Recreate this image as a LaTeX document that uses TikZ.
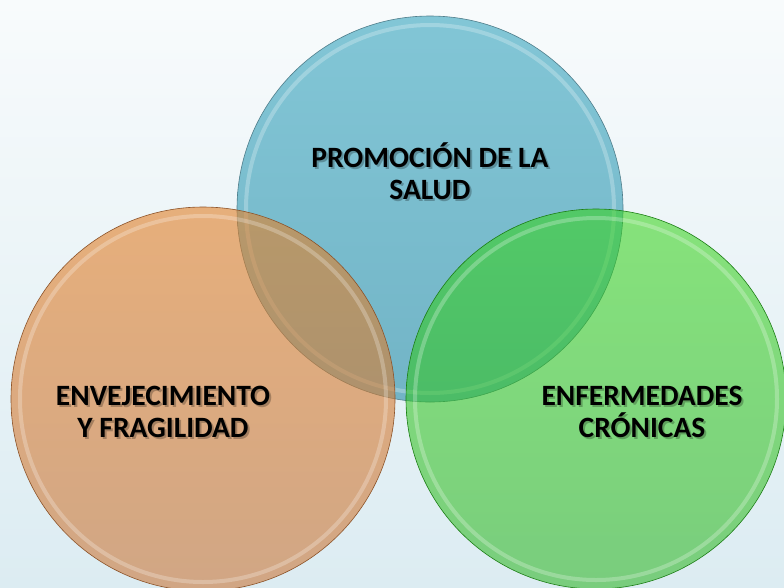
\documentclass[tikz,border=0pt]{standalone}
\usepackage{fontspec}
\setmainfont{Carlito}
\definecolor{bgtop}{RGB}{248,251,252}
\definecolor{bgbot}{RGB}{220,236,242}
\definecolor{bluetop}{RGB}{130,198,214}
\definecolor{bluebot}{RGB}{114,180,198}
\definecolor{orangetop}{RGB}{226,128,40}
\definecolor{orangebot}{RGB}{202,120,60}
\definecolor{greentop}{RGB}{50,212,20}
\definecolor{greenbot}{RGB}{40,180,30}
\tikzset{
  bubble/.style={circle, inner sep=0pt, draw=#1!70!black, line width=0.6pt},
  gloss/.style={draw=white, line width=4pt, draw opacity=0.25},
  label/.style={font=\fontsize{29.5}{32.5}\selectfont\bfseries, align=center, text=black},
  shade/.style={label, text opacity=0.25}
}
\begin{document}
\begin{tikzpicture}[x=1pt, y=-1pt]
\useasboundingbox (0,0) rectangle (784,587);
\shade[top color=bgtop, bottom color=bgbot] (0,0) rectangle (784,587);
% circles
\node[bubble=bluebot, minimum size=386pt, top color=bluetop, bottom color=bluebot] (promo) at (430,209){};
\draw[gloss] (promo.center) circle[radius=184pt];
\node[bubble=orangebot, minimum size=384pt, top color=orangetop, bottom color=orangebot, fill opacity=0.6] (enve) at (203,399){};
\draw[gloss] (enve.center) circle[radius=183pt];
\node[bubble=greenbot, minimum size=380pt, top color=greentop, bottom color=greenbot, fill opacity=0.55] (enfe) at (596,399){};
\draw[gloss] (enfe.center) circle[radius=181pt];
% texts (with soft shadow)
\node[shade] at (432,173) {PROMOCIÓN DE LA\\SALUD};
\node[label] (tpromo) at (430,171) {PROMOCIÓN DE LA\\SALUD};
\node[shade] at (165,414) {ENVEJECIMIENTO\\Y FRAGILIDAD};
\node[label] (tenve) at (163,412) {ENVEJECIMIENTO\\Y FRAGILIDAD};
\node[shade] at (644,414) {ENFERMEDADES\\CRÓNICAS};
\node[label] (tenfe) at (642,412) {ENFERMEDADES\\CRÓNICAS};
\end{tikzpicture}
\end{document}
